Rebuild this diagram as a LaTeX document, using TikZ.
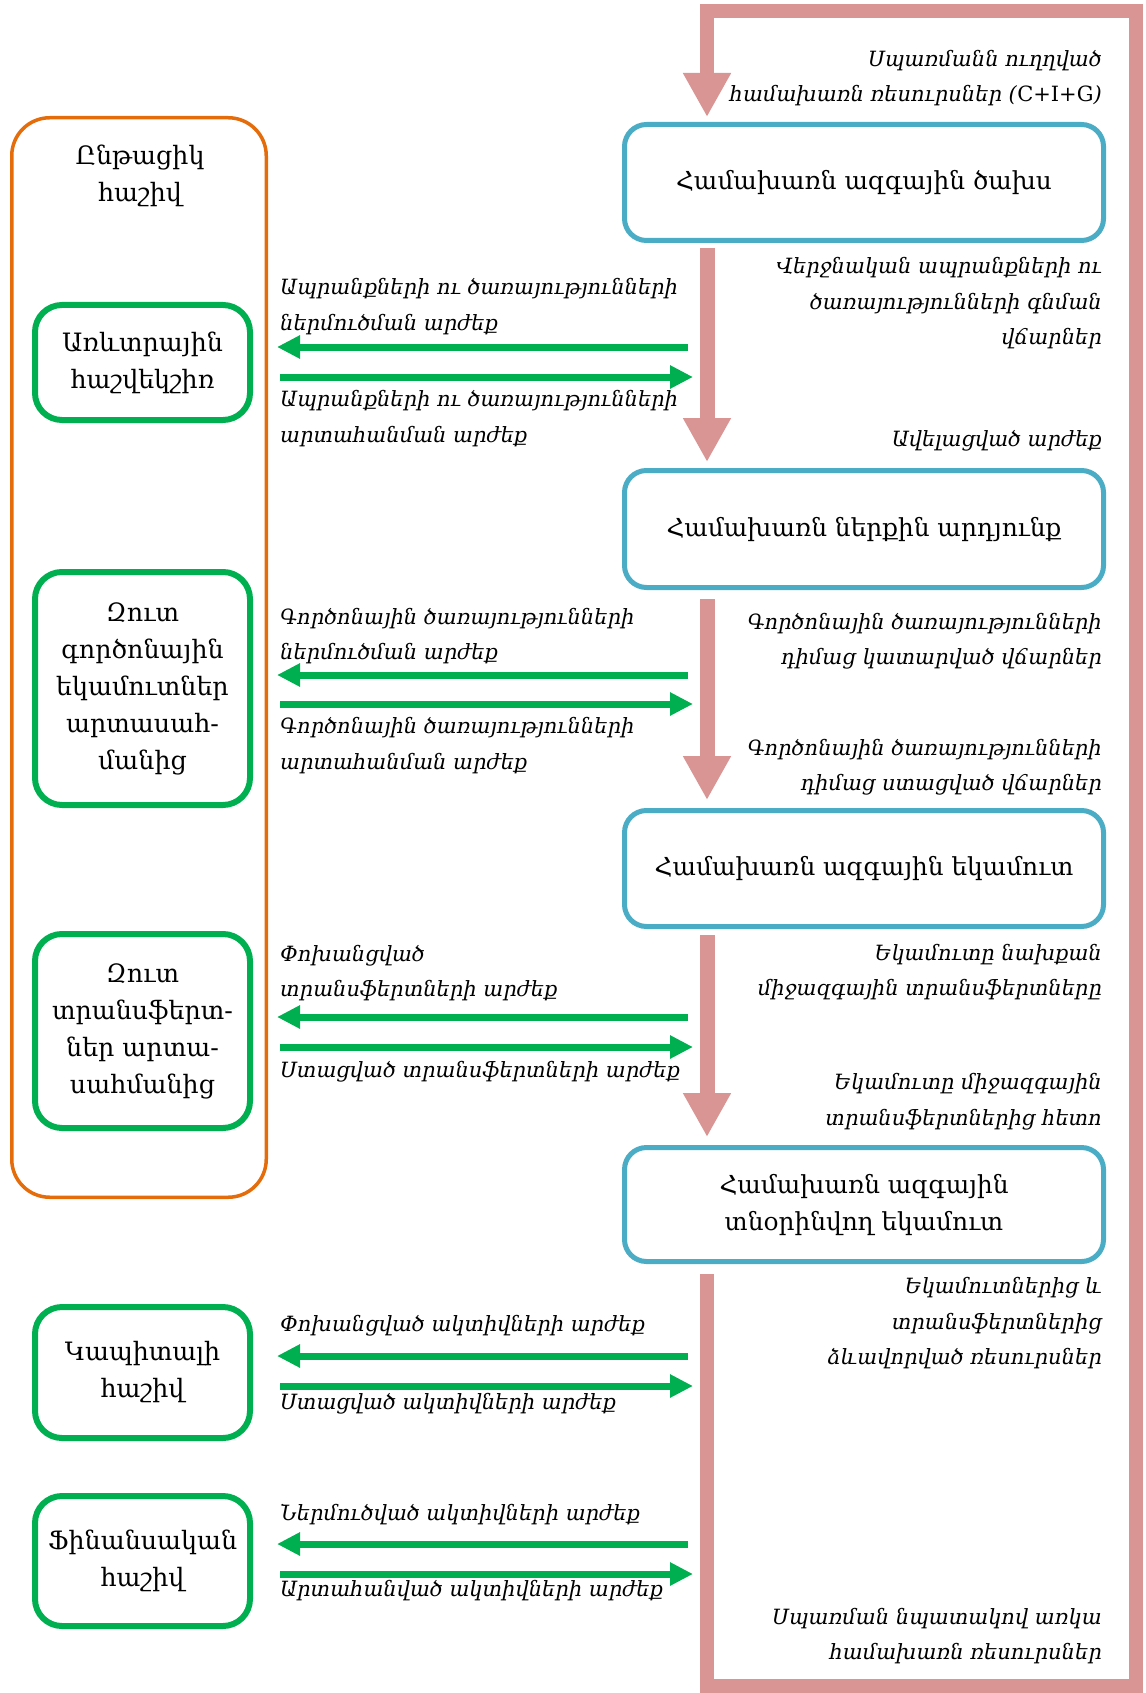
\documentclass[tikz,border=0pt]{standalone}
\usepackage{fontspec}
\setmainfont{DejaVu Serif}
\usetikzlibrary{arrows.meta}
\definecolor{pinkc}{RGB}{217,149,148}
\definecolor{bluec}{RGB}{75,172,198}
\definecolor{orangec}{RGB}{228,108,10}
\definecolor{greenc}{RGB}{0,176,80}
\begin{document}
\begin{tikzpicture}[x=1pt,y=-1pt,
  bluebox/.style={draw=bluec,line width=5pt,rounded corners=22pt,minimum width=479pt,inner sep=0pt,align=center,font=\fontsize{24.8}{37}\selectfont},
  greenbox/.style={draw=greenc,line width=6pt,rounded corners=27pt,minimum width=215pt,inner sep=0pt,align=center,font=\fontsize{25.3}{37}\selectfont},
  orangebox/.style={draw=orangec,line width=3.5pt,rounded corners=38pt,minimum width=254.5pt,minimum height=1079.5pt,inner sep=0pt},
  boxtext/.style={align=center,inner sep=0pt,font=\fontsize{25.3}{37}\selectfont},
  rlabel/.style={anchor=east,align=right,inner sep=0pt,font=\fontsize{21}{35.5}\selectfont\itshape},
  llabel/.style={anchor=west,align=left,inner sep=0pt,font=\fontsize{21}{35.5}\selectfont\itshape},
  pinkarrow/.style={draw=pinkc,line width=15pt,-{Triangle[width=45pt,length=44pt]}},
  pinkloop/.style={draw=pinkc,line width=14pt,miter limit=10,-{Triangle[width=45pt,length=44pt]}},
  garrow/.style={draw=greenc,line width=7pt,-{Triangle[width=22pt,length=23pt]}}
]
\useasboundingbox (0,0) rectangle (1145,1693);

% frame boxes
\node[orangebox] (acc) at (139,657.5) {};
\node[boxtext] (acclbl) at (140,176) {Ընթացիկ\\հաշիվ};

\node[bluebox,minimum height=116pt] (b1) at (864,182.5) {Համախառն ազգային ծախս};
\node[bluebox,minimum height=117pt] (b2) at (864,529) {Համախառն ներքին արդյունք};
\node[bluebox,minimum height=116pt] (b3) at (864,868.5) {Համախառն ազգային եկամուտ};
\node[bluebox,minimum height=114pt] (b4) at (864,1204.5) {Համախառն ազգային\\տնօրինվող եկամուտ};

\node[greenbox,minimum height=115pt] (g1) at (142.5,362.5) {Առևտրային\\հաշվեկշիռ};
\node[greenbox,minimum height=233pt] (g2) at (142.5,688.5) {Զուտ\\գործոնային\\եկամուտներ\\արտասահ-\\մանից};
\node[greenbox,minimum height=194pt] (g3) at (142.5,1031) {Զուտ\\տրանսֆերտ-\\ներ արտա-\\սահմանից};
\node[greenbox,minimum height=131pt] (g4) at (142.5,1372.5) {Կապիտալի\\հաշիվ};
\node[greenbox,minimum height=130pt] (g5) at (142.5,1561) {Ֆինանսական\\հաշիվ};

% pink flow
\coordinate (px) at (707,0);
\coordinate (loopbot) at (707,1686);
\coordinate (loopbr) at (1136,1686);
\coordinate (looptr) at (1136,11.5);
\coordinate (looptl) at (707,11.5);
\draw[pinkarrow,shorten <=5pt,shorten >=6pt] (b1.south -| px) -- (b2.north -| px);
\draw[pinkarrow,shorten <=9pt,shorten >=8pt] (b2.south -| px) -- (b3.north -| px);
\draw[pinkarrow,shorten <=6pt,shorten >=8pt] (b3.south -| px) -- (b4.north -| px);
\draw[pinkloop,shorten >=5pt] ([yshift=-10pt]b4.south -| px) -- (loopbot) -- (loopbr) -- (looptr) -- (looptl) -- (b1.north -| px);

% green arrows
\foreach \i/\ya/\yb in {1/347/377,2/675/704,3/1017/1047,4/1356/1386,5/1544/1574}{
  \coordinate (in\i R) at (688,\ya);
  \coordinate (in\i L) at (277,\ya);
  \coordinate (out\i L) at (280,\yb);
  \coordinate (out\i R) at (693,\yb);
  \draw[garrow] (in\i R) -- (in\i L);
  \draw[garrow] (out\i L) -- (out\i R);
}

% right labels
\node[rlabel] (r0) at (1102,78) {Սպառմանն ուղղված\\համախառն ռեսուրսներ (\textup{C+I+G})};
\node[rlabel] (r1) at (1102,303.5) {Վերջնական ապրանքների ու\\ծառայությունների գնման\\վճարներ};
\node[rlabel] (r2) at (1102,441) {Ավելացված արժեք};
\node[rlabel] (r3) at (1102,641) {Գործոնային ծառայությունների\\դիմաց կատարված վճարներ};
\node[rlabel] (r4) at (1102,767) {Գործոնային ծառայությունների\\դիմաց ստացված վճարներ};
\node[rlabel] (r5) at (1102,972) {Եկամուտը նախքան\\միջազգային տրանսֆերտները};
\node[rlabel] (r6) at (1102,1101.5) {Եկամուտը միջազգային\\տրանսֆերտներից հետո};
\node[rlabel] (r7) at (1102,1323.5) {Եկամուտներից և\\տրանսֆերտներից\\ձևավորված ռեսուրսներ};
\node[rlabel] (r8) at (1102,1636) {Սպառման նպատակով առկա\\համախառն ռեսուրսներ};

% left labels
\node[llabel] (l1a) at (280,306.5) {Ապրանքների ու ծառայությունների\\ներմուծման արժեք};
\node[llabel] (l1b) at (280,418.5) {Ապրանքների ու ծառայությունների\\արտահանման արժեք};
\node[llabel] (l2a) at (280,636) {Գործոնային ծառայությունների\\ներմուծման արժեք};
\node[llabel] (l2b) at (280,745.5) {Գործոնային ծառայությունների\\արտահանման արժեք};
\node[llabel] (l3a) at (280,973) {Փոխանցված\\տրանսֆերտների արժեք};
\node[llabel] (l3b) at (280,1072) {Ստացված տրանսֆերտների արժեք};
\node[llabel] (l4a) at (280,1326) {Փոխանցված ակտիվների արժեք};
\node[llabel] (l4b) at (280,1404) {Ստացված ակտիվների արժեք};
\node[llabel] (l5a) at (280,1515) {Ներմուծված ակտիվների արժեք};
\node[llabel] (l5b) at (280,1591) {Արտահանված ակտիվների արժեք};
\end{tikzpicture}
\end{document}
